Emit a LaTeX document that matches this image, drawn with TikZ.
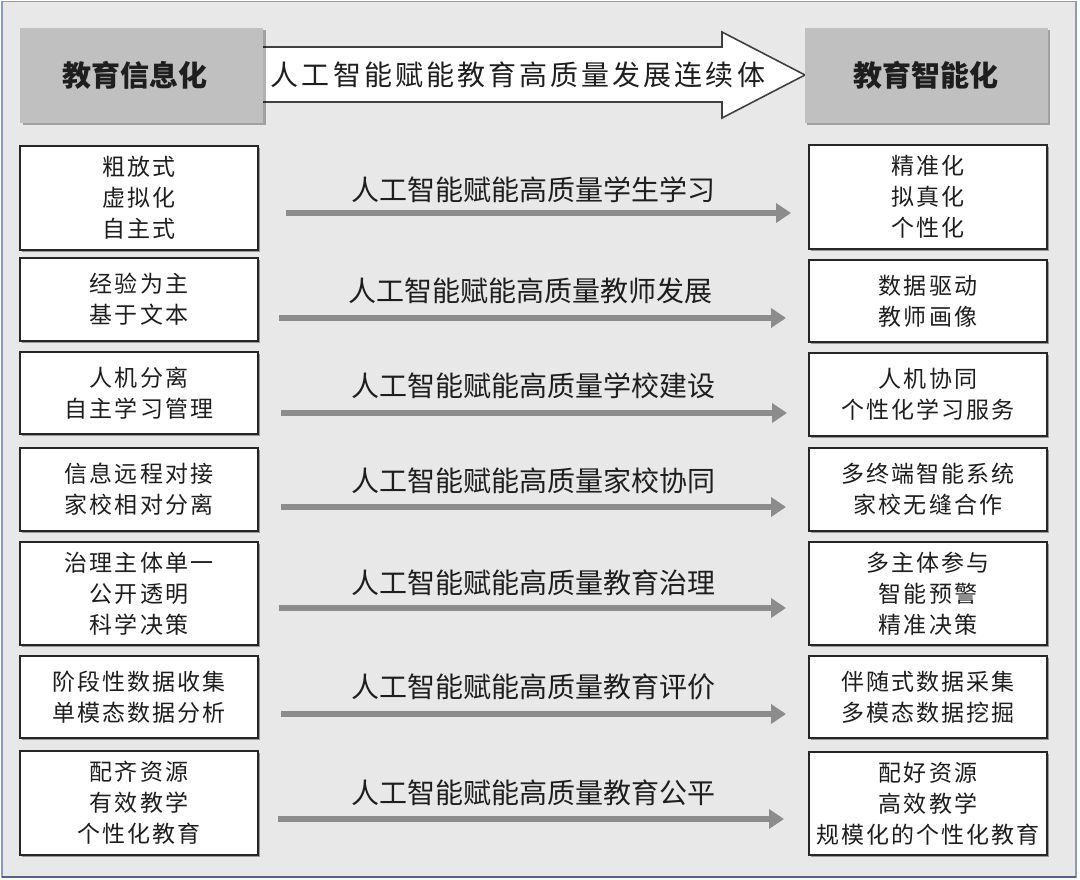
\documentclass[tikz,border=0pt]{standalone}
\usepackage{fontspec}
\setmainfont{Noto Sans CJK SC}
\newfontfamily\cjkbox[LetterSpace=9]{Noto Sans CJK SC}
\newfontfamily\cjkhead[LetterSpace=11]{Noto Sans CJK SC}
\usetikzlibrary{arrows.meta,shadows}
\definecolor{bgc}{HTML}{E8E8E8}
\definecolor{framec}{HTML}{8A9CBA}
\definecolor{framedark}{HTML}{4F6488}
\definecolor{headgray}{HTML}{C0C0C0}
\definecolor{arrowgray}{HTML}{8C8C8C}
\definecolor{txt}{HTML}{1E1E1E}
\tikzset{
  headbox/.style={fill=headgray, minimum width=243pt, minimum height=95pt, inner sep=0pt,
    drop shadow={shadow xshift=2.5pt, shadow yshift=-2.5pt, opacity=.3, fill=black},
    font=\bfseries\fontsize{29}{32}\selectfont, text=txt},
  itembox/.style={draw=black!85, line width=1.3pt, fill=white, minimum width=238pt,
    inner sep=0pt, align=center, text=txt,
    drop shadow={shadow xshift=2pt, shadow yshift=-2pt, opacity=.35, fill=black},
    font=\cjkbox\fontsize{23}{31}\selectfont},
  rowlabel/.style={font=\fontsize{28}{30}\selectfont, text=txt, inner sep=0pt},
  rowarrow/.style={draw=arrowgray, line width=6pt, -{Triangle[length=15pt,width=19pt]}}
}
\begin{document}
\begin{tikzpicture}[x=1pt,y=-1pt]
\fill[white] (0,0) rectangle (1080,880);
\useasboundingbox (0,0) rectangle (1080,880);
\draw[fill=bgc, draw=framec, line width=1.2pt] (2,1.5) rectangle (1076,877);
\draw[framedark, line width=2.5pt] (2,877) -- (1076,877);

% big outline arrow
\draw[fill=white, draw=black!75, line width=1.6pt, line join=miter]
  (250,47) -- (722,47) -- (722,32) -- (805,75) -- (722,118) -- (722,102) -- (250,102);
\node[font=\cjkhead\fontsize{28}{30}\selectfont, text=txt, inner sep=0pt] (bigtext) at (518,75) {人工智能赋能教育高质量发展连续体};

% head boxes
\node[headbox] (G1) at (141.5,75.5) {\hspace*{-14pt}教育信息化};
\node[headbox] (G2) at (926,75.5) {教育智能化};

% left boxes
\node[itembox, minimum height=104pt] (L1) at (139,198) {粗放式\\虚拟化\\自主式};
\node[itembox, minimum height=83pt]  (L2) at (139,299.5) {经验为主\\基于文本};
\node[itembox, minimum height=82pt]  (L3) at (139,393) {人机分离\\自主学习管理};
\node[itembox, minimum height=83pt]  (L4) at (139,489.5) {信息远程对接\\家校相对分离};
\node[itembox, minimum height=103pt] (L5) at (139,593.5) {治理主体单一\\公开透明\\科学决策};
\node[itembox, minimum height=82pt]  (L6) at (139,697) {阶段性数据收集\\单模态数据分析};
\node[itembox, minimum height=104pt] (L7) at (139,803) {配齐资源\\有效教学\\个性化教育};

% right boxes
\node[itembox, minimum height=104pt] (R1) at (928,197) {精准化\\拟真化\\个性化};
\node[itembox, minimum height=82pt]  (R2) at (928,301) {数据驱动\\教师画像};
\node[itembox, minimum height=83pt]  (R3) at (928,394.5) {人机协同\\个性化学习服务};
\node[itembox, minimum height=83pt]  (R4) at (928,489.5) {多终端智能系统\\家校无缝合作};
\node[itembox, minimum height=103pt] (R5) at (928,593.5) {多主体参与\\智能预警\\精准决策};
\node[itembox, minimum height=82pt]  (R6) at (928,697) {伴随式数据采集\\多模态数据挖掘};
\node[itembox, minimum height=103pt] (R7) at (928,803.5) {配好资源\\高效教学\\规模化的个性化教育};

% row labels
\node[rowlabel] (T1) at (533,190) {人工智能赋能高质量学生学习};
\node[rowlabel] (T2) at (530,291) {人工智能赋能高质量教师发展};
\node[rowlabel] (T3) at (533,386) {人工智能赋能高质量学校建设};
\node[rowlabel] (T4) at (533,481) {人工智能赋能高质量家校协同};
\node[rowlabel] (T5) at (533,583) {人工智能赋能高质量教育治理};
\node[rowlabel] (T6) at (533,687) {人工智能赋能高质量教育评价};
\node[rowlabel] (T7) at (533,793) {人工智能赋能高质量教育公平};

% arrow ends
\coordinate (s1) at (286,213); \coordinate (e1) at (791,213);
\coordinate (s2) at (279,318); \coordinate (e2) at (786,318);
\coordinate (s3) at (281,413); \coordinate (e3) at (787,413);
\coordinate (s4) at (281,507); \coordinate (e4) at (786,507);
\coordinate (s5) at (279,608); \coordinate (e5) at (786,608);
\coordinate (s6) at (281,714); \coordinate (e6) at (786,714);
\coordinate (s7) at (278,819); \coordinate (e7) at (784,819);
\foreach \i in {1,...,7} { \draw[rowarrow] (s\i) -- (e\i); }
\end{tikzpicture}
\end{document}
